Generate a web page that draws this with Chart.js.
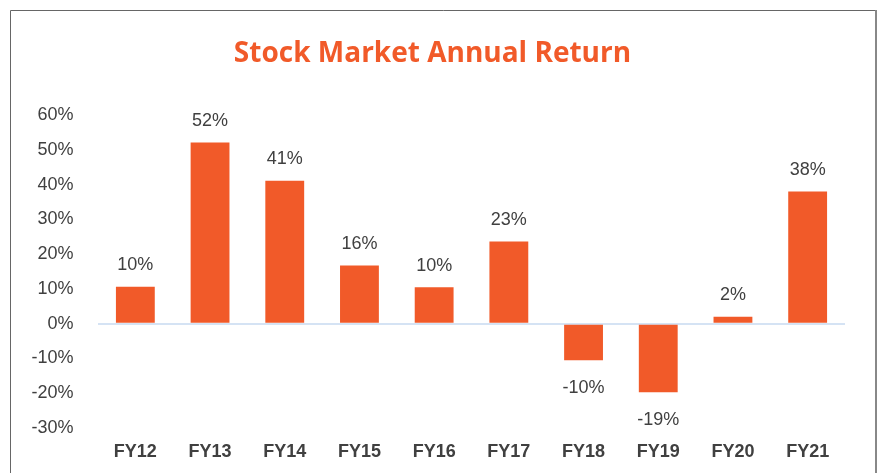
<!DOCTYPE html>
<html>
<head>
<meta charset="utf-8">
<script src="https://cdn.jsdelivr.net/npm/chart.js@4/dist/chart.umd.min.js"></script>
<style>
  html, body { margin: 0; padding: 0; background: #fff; }
  #wrap { position: relative; width: 882px; height: 473px; }
</style>
</head>
<body>
<div id="wrap"><canvas id="returnChart" width="882" height="473"></canvas></div>
<script>
'use strict';

const years = ['FY12', 'FY13', 'FY14', 'FY15', 'FY16', 'FY17', 'FY18', 'FY19', 'FY20', 'FY21'];
const annualReturn = [10.6, 52.1, 41.1, 16.7, 10.5, 23.6, -10.5, -19.7, 2.0, 38.0];
const yTicks = [60, 50, 40, 30, 20, 10, 0, -10, -20, -30];

const ORANGE = '#F15A29';
const TEXT = '#404040';

// frame round the whole picture (no bottom edge visible)
const framePlugin = {
  id: 'frame',
  beforeDraw(chart) {
    const c = chart.ctx;
    c.save();
    c.strokeStyle = '#666';
    c.lineWidth = 1;
    c.beginPath();
    c.moveTo(10.5, 480);
    c.lineTo(10.5, 10.5);
    c.lineTo(876, 10.5);
    c.stroke();
    c.strokeStyle = '#888';
    c.lineWidth = 2;
    c.beginPath();
    c.moveTo(876, 10);
    c.lineTo(876, 480);
    c.stroke();
    c.restore();
  },
};

// value labels above / below each bar
const valueLabels = {
  id: 'valueLabels',
  afterDatasetsDraw(chart) {
    const c = chart.ctx;
    const meta = chart.getDatasetMeta(0);
    c.save();
    c.font = '18px "Liberation Sans", Arial, sans-serif';
    c.fillStyle = TEXT;
    c.textAlign = 'center';
    c.textBaseline = 'middle';
    meta.data.forEach((bar, i) => {
      const v = annualReturn[i];
      const y = v >= 0 ? bar.y - 21.5 : bar.y + 27.5;
      c.fillText(Math.trunc(v) + '%', bar.x, y);
    });
    c.restore();
  },
};

new Chart(document.getElementById('returnChart'), {
  type: 'bar',
  data: {
    labels: years,
    datasets: [{
      data: annualReturn,
      backgroundColor: ORANGE,
      borderWidth: 0,
      barPercentage: 0.52,
      categoryPercentage: 1,
    }],
  },
  options: {
    responsive: false,
    animation: false,
    devicePixelRatio: 1,
    layout: { padding: { left: 20, right: 37, top: 37, bottom: 0 } },
    plugins: {
      legend: { display: false },
      tooltip: { enabled: false },
      title: {
        display: true,
        text: 'Stock Market Annual Return',
        color: ORANGE,
        font: { family: '"Open Sans", "Noto Sans", sans-serif', size: 28, weight: 'bold', lineHeight: 1.2 },
        padding: { top: 0, bottom: 44.4 },
      },
    },
    scales: {
      x: {
        grid: { display: false },
        border: { display: false },
        ticks: {
          color: TEXT,
          padding: 5,
          font: { family: '"Liberation Sans", Arial, sans-serif', size: 18, weight: 'bold' },
        },
        afterFit(scale) { scale.height = 45; },
      },
      y: {
        min: -30,
        max: 60,
        z: 1,
        border: { display: false },
        grid: {
          drawTicks: false,
          color: ctx => (ctx.tick && ctx.tick.value === 0 ? '#D5E3F4' : 'rgba(0,0,0,0)'),
          lineWidth: 2,
        },
        afterBuildTicks(scale) {
          scale.ticks = yTicks.map(v => ({ value: v }));
        },
        ticks: {
          color: TEXT,
          padding: 24.5,
          font: { family: '"Liberation Sans", Arial, sans-serif', size: 18 },
          callback: v => v + '%',
        },
        afterFit(scale) { scale.width = 78; },
      },
    },
  },
  plugins: [framePlugin, valueLabels],
});
</script>
</body>
</html>
